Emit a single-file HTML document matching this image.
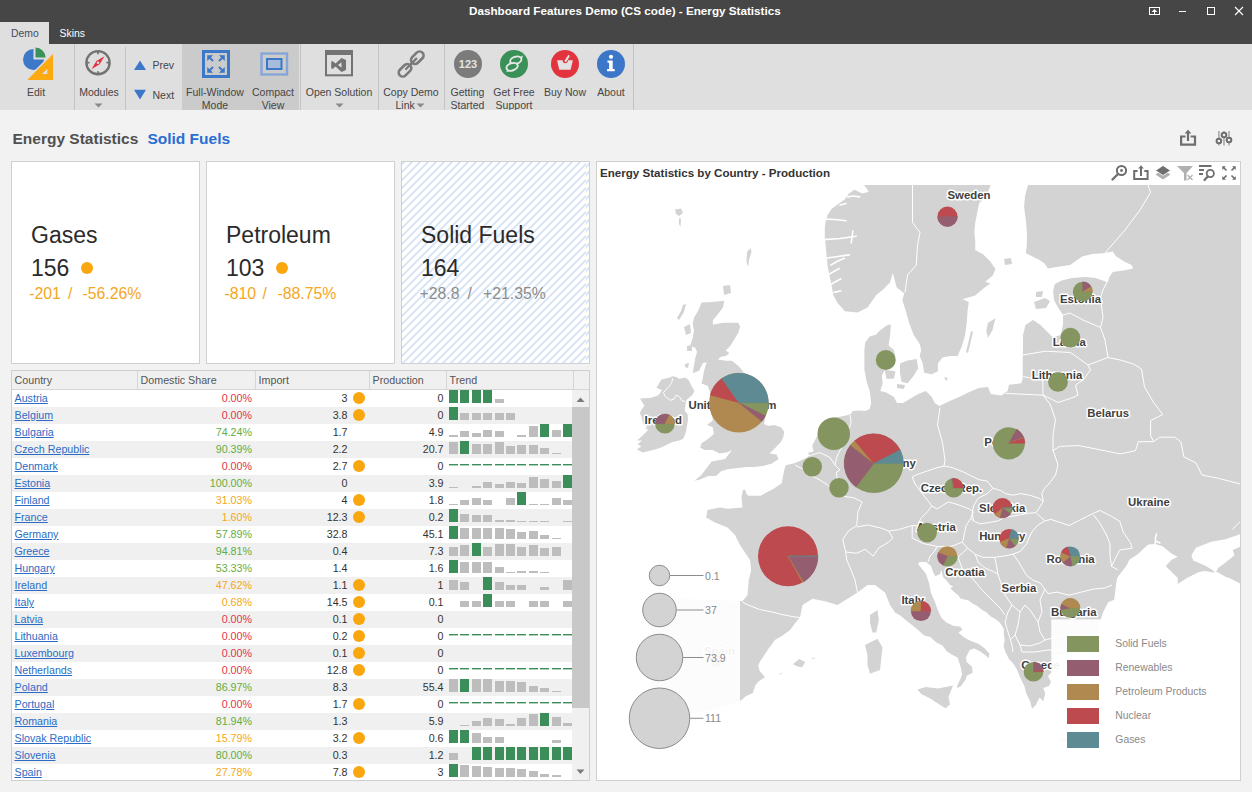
<!DOCTYPE html>
<html><head><meta charset="utf-8"><title>Dashboard Features Demo</title>
<style>
*{box-sizing:border-box;margin:0;padding:0}
html,body{width:1252px;height:792px;overflow:hidden}
body{position:relative;background:#f2f2f2;font-family:"Liberation Sans",sans-serif;color:#333}
.abs{position:absolute}
.t{position:absolute;white-space:nowrap;line-height:1}
#titlebar{position:absolute;left:0;top:0;width:1252px;height:44px;background:#464646}
#ribbon{position:absolute;left:0;top:44px;width:1252px;height:66px;background:#dfdfdf;overflow:hidden}
.sep{position:absolute;top:0;width:1px;height:66px;background:#c3c3c3}
.rl{position:absolute;font-size:10.5px;color:#454545;white-space:nowrap;text-align:center;line-height:13px}
.card{position:absolute;top:161px;width:189px;height:203px;background:#fff;border:1px solid #d0d0d0}
.ct{position:absolute;left:19px;font-size:23px;color:#2b2b2b;white-space:nowrap;line-height:1}
.cs{position:absolute;font-size:15.8px;white-space:nowrap;line-height:1}
#grid{position:absolute;left:11px;top:370px;width:579px;height:411px;background:#fff;border:1px solid #cfcfcf;overflow:hidden}
.gh{position:absolute;top:0;height:19px;background:#f0f0f0;border-right:1px solid #d5d5d5;border-bottom:1px solid #d5d5d5;font-size:10.7px;color:#555;padding:3.8px 0 0 2.6px;line-height:1}
.gr{position:absolute;left:12px;width:560px;height:17px}
a.lk{position:absolute;color:#2d6cc5;text-decoration:underline;line-height:1;white-space:nowrap;font-size:10.7px}
.num{position:absolute;line-height:1;white-space:nowrap;font-size:10.7px;color:#333}
i.dot{position:absolute;width:12px;height:12px;border-radius:50%;background:#f9a60f}
</style></head><body>

<div id="titlebar"></div>
<div class="t" style="left:469px;top:5px;font-size:11.7px;font-weight:bold;color:#fff;letter-spacing:0px">Dashboard Features Demo (CS code) - Energy Statistics</div>
<svg class="abs" style="left:1140px;top:0" width="112" height="22" viewBox="1140 0 112 22">
<g fill="none" stroke="#fff" stroke-width="1">
<rect x="1149.5" y="7.5" width="10" height="7"/>
<path d="M1154.5,14.5 V11.5"/><path d="M1151.6,12 L1154.5,9 L1157.4,12 Z" fill="#fff" stroke="none"/>
<path d="M1179,11.5 H1186"/>
<rect x="1207.5" y="7.5" width="7" height="7"/>
<path d="M1235,7 L1243,15 M1243,7 L1235,15" stroke-width="1.1"/>
</g></svg>
<div class="abs" style="left:0;top:22px;width:49px;height:22px;background:#dfdfdf"></div>
<div class="t" style="left:11px;top:28.5px;font-size:10.4px;color:#4a4a5a">Demo</div>
<div class="t" style="left:59.5px;top:28.5px;font-size:10.4px;color:#fff">Skins</div>
<div id="ribbon">
 <div class="sep" style="left:74px"></div>
 <div class="sep" style="left:125px;top:3px"></div>
 <div class="abs" style="left:182px;top:0;width:117px;height:66px;background:#cbcbcb"></div>
 <div class="sep" style="left:300px"></div>
 <div class="sep" style="left:378px"></div>
 <div class="sep" style="left:444px"></div>
 <div class="sep" style="left:633px"></div>
</div>
<svg class="abs" style="left:20px;top:46px" width="36" height="36" viewBox="20 46 36 36">
<path d="M33.5,59.5 L33.5,49 A10.5,10.5 0 1 0 44,59.5 Z" fill="#3d78c9"/>
<path d="M35.5,57.5 L35.5,47.5 A10,10 0 0 1 45.5,57.5 Z" fill="#3a9159"/>
<path d="M53,54.3 L53,80 L27.5,80 Z" fill="#fda911" stroke="#dfdfdf" stroke-width="3.2" paint-order="stroke"/><path d="M53,54.3 L53,80 L27.5,80 Z" fill="#fda911"/>
<path d="M47.3,68.8 L47.3,74 L42,74 Z" fill="#dfdfdf"/>
</svg><svg class="abs" style="left:84px;top:49px" width="28" height="28" viewBox="84 49 28 28">
<circle cx="98" cy="62.7" r="11.6" fill="none" stroke="#727272" stroke-width="2.4"/>
<path d="M98,51.6v2.6M98,71.2v2.6M86.9,62.7h2.6M106.5,62.7h2.6" stroke="#727272" stroke-width="1.8"/>
<path d="M104.5,56.2 L99.6,64.3 L91.5,69.2 L96.4,61.1 Z" fill="#e3303f"/>
<circle cx="98" cy="62.7" r="1.3" fill="#dfdfdf"/>
</svg><svg class="abs" style="left:130px;top:56px" width="20" height="48" viewBox="130 56 20 48">
<path d="M134,70 L146,70 L140,60.4 Z" fill="#3c78c9"/>
<path d="M134,89.8 L146,89.8 L140,99.4 Z" fill="#3c78c9"/>
</svg><svg class="abs" style="left:200px;top:48px" width="32" height="32" viewBox="200 48 32 32">
<rect x="203.5" y="51.5" width="25" height="25" fill="none" stroke="#3c78c9" stroke-width="3"/>
<g stroke="#3c78c9" stroke-width="2" fill="#3c78c9">
<path d="M208.5,56.5 L213,61" /><path d="M207.5,55.5 h5 l-5,5 z" stroke-width="0.6"/>
<path d="M223.5,56.5 L219,61" /><path d="M224.5,55.5 h-5 l5,5 z" stroke-width="0.6"/>
<path d="M208.5,71.5 L213,67" /><path d="M207.5,72.5 h5 l-5,-5 z" stroke-width="0.6"/>
<path d="M223.5,71.5 L219,67" /><path d="M224.5,72.5 h-5 l5,-5 z" stroke-width="0.6"/>
</g></svg><svg class="abs" style="left:258px;top:50px" width="32" height="28" viewBox="258 50 32 28">
<rect x="261.5" y="53.5" width="25.5" height="21" fill="none" stroke="#86a6d6" stroke-width="2.4"/>
<rect x="267" y="59" width="14.5" height="10" fill="#a7bcda" stroke="#3c78c9" stroke-width="2"/>
</svg><svg class="abs" style="left:323px;top:48px" width="32" height="30" viewBox="323 48 32 30">
<rect x="326" y="51" width="26" height="24.3" fill="none" stroke="#737373" stroke-width="2"/>
<rect x="325" y="50" width="28" height="5" fill="#737373"/>
<path d="M346,60 L346,70 L341.5,72 L335.5,66.5 L332.5,69 L331.2,68.2 L331.2,61.8 L332.5,61 L335.5,63.5 L341.5,58 Z M341.5,62.2 L338,65 L341.5,67.8 Z" fill="#737373" fill-rule="evenodd"/>
</svg><svg class="abs" style="left:395px;top:48px" width="32" height="32" viewBox="395 48 32 32">
<g fill="none" stroke="#7a7a7a" stroke-width="2.6" stroke-linecap="round">
<rect x="413.3" y="50.5" width="8" height="14.4" rx="4" transform="rotate(45 417.3 57.7)"/>
<rect x="401" y="63.1" width="8" height="14.4" rx="4" transform="rotate(45 405 70.3)"/>
<path d="M406,69 L416.3,58.6" stroke-width="2.3"/>
</g></svg><svg class="abs" style="left:450px;top:46px" width="180" height="36" viewBox="450 46 180 36">
<circle cx="468" cy="64" r="14" fill="#7b7b7b"/>
<text x="468" y="68" text-anchor="middle" font-family="Liberation Sans" font-weight="bold" font-size="11px" fill="#e4e4e4">123</text>
<circle cx="514" cy="64" r="14" fill="#3a9157"/>
<ellipse cx="515.8" cy="60.3" rx="5.8" ry="3.6" transform="rotate(-18 515.8 60.3)" fill="none" stroke="#e8e8e8" stroke-width="1.9"/>
<path d="M519.8,57.2 L523.5,55.2 L521.6,58.8 Z" fill="#e8e8e8"/>
<ellipse cx="512.1" cy="66.8" rx="5.8" ry="3.6" transform="rotate(-18 512.1 66.8)" fill="#3a9157" stroke="#e8e8e8" stroke-width="1.9"/>
<path d="M508.2,69.8 L505.8,72.2 L509.6,71.2 Z" fill="#e8e8e8"/>
<circle cx="565" cy="64" r="14" fill="#e2333f"/>
<path d="M557.1,60.3 H572.9 L570.6,69.8 H559.2 Z" fill="#e2e2e2"/>
<circle cx="565.3" cy="60.6" r="2.6" fill="#e2333f"/>
<path d="M565.6,61 L568.6,56.2" stroke="#e2e2e2" stroke-width="2.1" stroke-linecap="round"/>
<circle cx="611" cy="64" r="14" fill="#3b76c8"/>
<circle cx="611" cy="56.8" r="2.1" fill="#fff"/>
<path d="M607.5,60.5 h5.2 v8.5 h2 v2.2 h-7.6 v-2.2 h2 v-6.3 h-1.6 z" fill="#fff"/>
</svg>
<div class="abs" style="left:0;top:44px;width:640px;height:66px;overflow:hidden"><div class="abs" style="left:0;top:-44px;width:640px;height:160px">
<div class="rl" style="left:16px;width:40px;top:86px">Edit</div>
<div class="rl" style="left:74px;width:50px;top:86px">Modules</div>
<svg class="abs" style="left:94px;top:103px" width="9" height="5"><path d="M0.5,0.5 L8.5,0.5 L4.5,4.5 Z" fill="#8a8a8a"/></svg>
<div class="rl" style="left:152.5px;top:58.5px;text-align:left">Prev</div>
<div class="rl" style="left:152.5px;top:88.5px;text-align:left">Next</div>
<div class="rl" style="left:182px;width:66px;top:86px">Full-Window<br>Mode</div>
<div class="rl" style="left:244px;width:58px;top:86px">Compact<br>View</div>
<div class="rl" style="left:300px;width:78px;top:86px">Open Solution</div>
<svg class="abs" style="left:335px;top:103px" width="9" height="5"><path d="M0.5,0.5 L8.5,0.5 L4.5,4.5 Z" fill="#8a8a8a"/></svg>
<div class="rl" style="left:378px;width:66px;top:86px">Copy Demo<br>Link&nbsp;&nbsp;&nbsp;&nbsp;</div>
<svg class="abs" style="left:416px;top:103px" width="9" height="5"><path d="M0.5,0.5 L8.5,0.5 L4.5,4.5 Z" fill="#8a8a8a"/></svg>
<div class="rl" style="left:444px;width:47px;top:86px">Getting<br>Started</div>
<div class="rl" style="left:489px;width:50px;top:86px">Get Free<br>Support</div>
<div class="rl" style="left:540px;width:50px;top:86px">Buy Now</div>
<div class="rl" style="left:590px;width:42px;top:86px">About</div>
</div></div>
<div class="abs" style="left:0;top:110px;width:1252px;height:0px"></div>

<div class="t" style="left:12.5px;top:130.5px;font-size:15.5px;font-weight:bold;color:#505050">Energy Statistics</div>
<div class="t" style="left:147.4px;top:130.5px;font-size:15.5px;font-weight:bold;color:#2a6ed2">Solid Fuels</div>
<svg class="abs" style="left:1176px;top:126px" width="64" height="24" viewBox="1176 126 64 24">
<g fill="none" stroke="#6e6e6e" stroke-width="2.2">
<path d="M1185.5,136.5 H1181.1 V144.6 H1195 V136.5 H1190.6"/>
<path d="M1188,141 V131.5"/>
</g>
<path d="M1184.6,133.5 L1188,129.8 L1191.4,133.5 Z" fill="#6e6e6e"/>
<g stroke-width="1.6">
<path d="M1218.9,131 V145.5 M1224,131 V145.5 M1229,131 V145.5" stroke="#a9a9a9"/>
</g>
<g fill="#f2f2f2" stroke="#6e6e6e" stroke-width="2">
<circle cx="1218.9" cy="141" r="2.3"/><circle cx="1224" cy="135" r="2.3"/><circle cx="1229" cy="140" r="2.3"/>
</g>
</svg>

<div class="card" style="left:11px"></div>
<div class="card" style="left:206px"></div>
<div class="card" style="left:401px;background:repeating-linear-gradient(-45deg,#ffffff 0px,#ffffff 3.6px,#dbe7f6 3.6px,#dbe7f6 5.66px);background-position:-3px 0"></div>
<div class="ct" style="left:31px;top:224px">Gases</div>
<div class="ct" style="left:31px;top:257px">156</div>
<div class="abs" style="left:81px;top:261.5px;width:12px;height:12px;border-radius:50%;background:#f9a60f"></div>
<div class="cs" style="left:29.2px;top:286.2px;color:#f5a623">-201</div>
<div class="cs" style="left:68px;top:286.2px;color:#f5a623">/</div>
<div class="cs" style="left:82.5px;top:286.2px;color:#f5a623">-56.26%</div>
<div class="ct" style="left:226px;top:224px">Petroleum</div>
<div class="ct" style="left:226px;top:257px">103</div>
<div class="abs" style="left:276px;top:261.5px;width:12px;height:12px;border-radius:50%;background:#f9a60f"></div>
<div class="cs" style="left:224.4px;top:286.2px;color:#f5a623">-810</div>
<div class="cs" style="left:262.5px;top:286.2px;color:#f5a623">/</div>
<div class="cs" style="left:277.5px;top:286.2px;color:#f5a623">-88.75%</div>
<div class="ct" style="left:421px;top:224px">Solid Fuels</div>
<div class="ct" style="left:421px;top:257px">164</div>
<div class="cs" style="left:419.5px;top:286.2px;color:#8d8d8d">+28.8</div>
<div class="cs" style="left:467.5px;top:286.2px;color:#8d8d8d">/</div>
<div class="cs" style="left:483px;top:286.2px;color:#8d8d8d">+21.35%</div>

<div id="grid">
 <div class="gh" style="left:0;width:126px">Country</div>
 <div class="gh" style="left:126px;width:118px">Domestic Share</div>
 <div class="gh" style="left:244px;width:114px">Import</div>
 <div class="gh" style="left:358px;width:77px">Production</div>
 <div class="gh" style="left:435px;width:127px">Trend</div>
 <div class="gh" style="left:562px;width:17px;border-right:none"></div>
 <div class="abs" style="left:560px;top:19px;width:18px;height:391px;background:#f0f0f0"></div>
 <div class="abs" style="left:560px;top:36px;width:18px;height:301px;background:#c8c8c8"></div>
 <svg class="abs" style="left:560px;top:19px" width="18" height="391"><path d="M4.5,12 L12.5,12 L8.5,7.5 Z" fill="#7a7a7a"/><path d="M4.5,379.5 L12.5,379.5 L8.5,384 Z" fill="#7a7a7a"/></svg>
</div>
<div class="gr" style="top:390px;height:17px;background:#ffffff"></div><a class="lk" style="left:14.5px;top:393px">Austria</a><span class="num" style="right:1000px;top:393px;color:#e0344e">0.00%</span><span class="num" style="right:904.5px;top:393px">3</span><i class="dot" style="left:353px;top:391.8px"></i><span class="num" style="right:808.5px;top:393px">0</span>
<div class="gr" style="top:407px;height:17px;background:#f0f0f0"></div><a class="lk" style="left:14.5px;top:410px">Belgium</a><span class="num" style="right:1000px;top:410px;color:#e0344e">0.00%</span><span class="num" style="right:904.5px;top:410px">3.8</span><i class="dot" style="left:353px;top:408.8px"></i><span class="num" style="right:808.5px;top:410px">0</span>
<div class="gr" style="top:424px;height:17px;background:#ffffff"></div><a class="lk" style="left:14.5px;top:427px">Bulgaria</a><span class="num" style="right:1000px;top:427px;color:#5fae45">74.24%</span><span class="num" style="right:904.5px;top:427px">1.7</span><span class="num" style="right:808.5px;top:427px">4.9</span>
<div class="gr" style="top:441px;height:17px;background:#f0f0f0"></div><a class="lk" style="left:14.5px;top:444px">Czech Republic</a><span class="num" style="right:1000px;top:444px;color:#5fae45">90.39%</span><span class="num" style="right:904.5px;top:444px">2.2</span><span class="num" style="right:808.5px;top:444px">20.7</span>
<div class="gr" style="top:458px;height:17px;background:#ffffff"></div><a class="lk" style="left:14.5px;top:461px">Denmark</a><span class="num" style="right:1000px;top:461px;color:#e0344e">0.00%</span><span class="num" style="right:904.5px;top:461px">2.7</span><i class="dot" style="left:353px;top:459.8px"></i><span class="num" style="right:808.5px;top:461px">0</span>
<div class="gr" style="top:475px;height:17px;background:#f0f0f0"></div><a class="lk" style="left:14.5px;top:478px">Estonia</a><span class="num" style="right:1000px;top:478px;color:#5fae45">100.00%</span><span class="num" style="right:904.5px;top:478px">0</span><span class="num" style="right:808.5px;top:478px">3.9</span>
<div class="gr" style="top:492px;height:17px;background:#ffffff"></div><a class="lk" style="left:14.5px;top:495px">Finland</a><span class="num" style="right:1000px;top:495px;color:#f5a623">31.03%</span><span class="num" style="right:904.5px;top:495px">4</span><i class="dot" style="left:353px;top:493.8px"></i><span class="num" style="right:808.5px;top:495px">1.8</span>
<div class="gr" style="top:509px;height:17px;background:#f0f0f0"></div><a class="lk" style="left:14.5px;top:512px">France</a><span class="num" style="right:1000px;top:512px;color:#f5a623">1.60%</span><span class="num" style="right:904.5px;top:512px">12.3</span><i class="dot" style="left:353px;top:510.8px"></i><span class="num" style="right:808.5px;top:512px">0.2</span>
<div class="gr" style="top:526px;height:17px;background:#ffffff"></div><a class="lk" style="left:14.5px;top:529px">Germany</a><span class="num" style="right:1000px;top:529px;color:#5fae45">57.89%</span><span class="num" style="right:904.5px;top:529px">32.8</span><span class="num" style="right:808.5px;top:529px">45.1</span>
<div class="gr" style="top:543px;height:17px;background:#f0f0f0"></div><a class="lk" style="left:14.5px;top:546px">Greece</a><span class="num" style="right:1000px;top:546px;color:#5fae45">94.81%</span><span class="num" style="right:904.5px;top:546px">0.4</span><span class="num" style="right:808.5px;top:546px">7.3</span>
<div class="gr" style="top:560px;height:17px;background:#ffffff"></div><a class="lk" style="left:14.5px;top:563px">Hungary</a><span class="num" style="right:1000px;top:563px;color:#5fae45">53.33%</span><span class="num" style="right:904.5px;top:563px">1.4</span><span class="num" style="right:808.5px;top:563px">1.6</span>
<div class="gr" style="top:577px;height:17px;background:#f0f0f0"></div><a class="lk" style="left:14.5px;top:580px">Ireland</a><span class="num" style="right:1000px;top:580px;color:#f5a623">47.62%</span><span class="num" style="right:904.5px;top:580px">1.1</span><i class="dot" style="left:353px;top:578.8px"></i><span class="num" style="right:808.5px;top:580px">1</span>
<div class="gr" style="top:594px;height:17px;background:#ffffff"></div><a class="lk" style="left:14.5px;top:597px">Italy</a><span class="num" style="right:1000px;top:597px;color:#f5a623">0.68%</span><span class="num" style="right:904.5px;top:597px">14.5</span><i class="dot" style="left:353px;top:595.8px"></i><span class="num" style="right:808.5px;top:597px">0.1</span>
<div class="gr" style="top:611px;height:17px;background:#f0f0f0"></div><a class="lk" style="left:14.5px;top:614px">Latvia</a><span class="num" style="right:1000px;top:614px;color:#e0344e">0.00%</span><span class="num" style="right:904.5px;top:614px">0.1</span><i class="dot" style="left:353px;top:612.8px"></i><span class="num" style="right:808.5px;top:614px">0</span>
<div class="gr" style="top:628px;height:17px;background:#ffffff"></div><a class="lk" style="left:14.5px;top:631px">Lithuania</a><span class="num" style="right:1000px;top:631px;color:#e0344e">0.00%</span><span class="num" style="right:904.5px;top:631px">0.2</span><i class="dot" style="left:353px;top:629.8px"></i><span class="num" style="right:808.5px;top:631px">0</span>
<div class="gr" style="top:645px;height:17px;background:#f0f0f0"></div><a class="lk" style="left:14.5px;top:648px">Luxembourg</a><span class="num" style="right:1000px;top:648px;color:#e0344e">0.00%</span><span class="num" style="right:904.5px;top:648px">0.1</span><i class="dot" style="left:353px;top:646.8px"></i><span class="num" style="right:808.5px;top:648px">0</span>
<div class="gr" style="top:662px;height:17px;background:#ffffff"></div><a class="lk" style="left:14.5px;top:665px">Netherlands</a><span class="num" style="right:1000px;top:665px;color:#e0344e">0.00%</span><span class="num" style="right:904.5px;top:665px">12.8</span><i class="dot" style="left:353px;top:663.8px"></i><span class="num" style="right:808.5px;top:665px">0</span>
<div class="gr" style="top:679px;height:17px;background:#f0f0f0"></div><a class="lk" style="left:14.5px;top:682px">Poland</a><span class="num" style="right:1000px;top:682px;color:#5fae45">86.97%</span><span class="num" style="right:904.5px;top:682px">8.3</span><span class="num" style="right:808.5px;top:682px">55.4</span>
<div class="gr" style="top:696px;height:17px;background:#ffffff"></div><a class="lk" style="left:14.5px;top:699px">Portugal</a><span class="num" style="right:1000px;top:699px;color:#e0344e">0.00%</span><span class="num" style="right:904.5px;top:699px">1.7</span><i class="dot" style="left:353px;top:697.8px"></i><span class="num" style="right:808.5px;top:699px">0</span>
<div class="gr" style="top:713px;height:17px;background:#f0f0f0"></div><a class="lk" style="left:14.5px;top:716px">Romania</a><span class="num" style="right:1000px;top:716px;color:#5fae45">81.94%</span><span class="num" style="right:904.5px;top:716px">1.3</span><span class="num" style="right:808.5px;top:716px">5.9</span>
<div class="gr" style="top:730px;height:17px;background:#ffffff"></div><a class="lk" style="left:14.5px;top:733px">Slovak Republic</a><span class="num" style="right:1000px;top:733px;color:#f5a623">15.79%</span><span class="num" style="right:904.5px;top:733px">3.2</span><i class="dot" style="left:353px;top:731.8px"></i><span class="num" style="right:808.5px;top:733px">0.6</span>
<div class="gr" style="top:747px;height:17px;background:#f0f0f0"></div><a class="lk" style="left:14.5px;top:750px">Slovenia</a><span class="num" style="right:1000px;top:750px;color:#5fae45">80.00%</span><span class="num" style="right:904.5px;top:750px">0.3</span><span class="num" style="right:808.5px;top:750px">1.2</span>
<div class="gr" style="top:764px;height:16px;background:#ffffff"></div><a class="lk" style="left:14.5px;top:767px">Spain</a><span class="num" style="right:1000px;top:767px;color:#f5a623">27.78%</span><span class="num" style="right:904.5px;top:767px">7.8</span><i class="dot" style="left:353px;top:765.8px"></i><span class="num" style="right:808.5px;top:767px">3</span>
<svg class="abs" style="left:0;top:0" width="1252" height="792" viewBox="0 0 1252 792"><rect x="449" y="390" width="9" height="13" fill="#3b8e5a"/><rect x="460" y="390" width="9" height="13" fill="#3b8e5a"/><rect x="472" y="390" width="9" height="13" fill="#3b8e5a"/><rect x="483" y="390" width="9" height="13" fill="#3b8e5a"/><rect x="495" y="399" width="9" height="4" fill="#bdbdbd"/><rect x="449" y="407" width="9" height="13" fill="#3b8e5a"/><rect x="460" y="413" width="9" height="7" fill="#bdbdbd"/><rect x="472" y="413" width="9" height="7" fill="#bdbdbd"/><rect x="483" y="413" width="9" height="7" fill="#bdbdbd"/><rect x="495" y="413" width="9" height="7" fill="#bdbdbd"/><rect x="506" y="413" width="9" height="7" fill="#bdbdbd"/><rect x="449" y="435" width="9" height="2" fill="#bdbdbd"/><rect x="460" y="431" width="9" height="6" fill="#bdbdbd"/><rect x="472" y="433" width="9" height="4" fill="#bdbdbd"/><rect x="483" y="430" width="9" height="7" fill="#bdbdbd"/><rect x="495" y="431" width="9" height="6" fill="#bdbdbd"/><rect x="517" y="435" width="9" height="2" fill="#bdbdbd"/><rect x="529" y="426" width="9" height="11" fill="#bdbdbd"/><rect x="540" y="424" width="9" height="13" fill="#3b8e5a"/><rect x="552" y="430" width="9" height="7" fill="#bdbdbd"/><rect x="563" y="424" width="9" height="13" fill="#3b8e5a"/><rect x="449" y="442" width="9" height="12" fill="#bdbdbd"/><rect x="460" y="441" width="9" height="13" fill="#3b8e5a"/><rect x="472" y="444" width="9" height="10" fill="#bdbdbd"/><rect x="483" y="444" width="9" height="10" fill="#bdbdbd"/><rect x="495" y="442" width="9" height="12" fill="#bdbdbd"/><rect x="506" y="446" width="9" height="8" fill="#bdbdbd"/><rect x="517" y="445" width="9" height="9" fill="#bdbdbd"/><rect x="529" y="445" width="9" height="9" fill="#bdbdbd"/><rect x="540" y="448" width="9" height="6" fill="#bdbdbd"/><rect x="552" y="453" width="9" height="1" fill="#bdbdbd"/><rect x="449" y="464" width="9" height="1.4" fill="#3b8e5a"/><rect x="460" y="464" width="9" height="1.4" fill="#3b8e5a"/><rect x="472" y="464" width="9" height="1.4" fill="#3b8e5a"/><rect x="483" y="464" width="9" height="1.4" fill="#3b8e5a"/><rect x="495" y="464" width="9" height="1.4" fill="#3b8e5a"/><rect x="506" y="464" width="9" height="1.4" fill="#3b8e5a"/><rect x="517" y="464" width="9" height="1.4" fill="#3b8e5a"/><rect x="529" y="464" width="9" height="1.4" fill="#3b8e5a"/><rect x="540" y="464" width="9" height="1.4" fill="#3b8e5a"/><rect x="552" y="464" width="9" height="1.4" fill="#3b8e5a"/><rect x="563" y="464" width="9" height="1.4" fill="#3b8e5a"/><rect x="449" y="487" width="9" height="1" fill="#bdbdbd"/><rect x="472" y="486" width="9" height="2" fill="#bdbdbd"/><rect x="483" y="482" width="9" height="6" fill="#bdbdbd"/><rect x="495" y="484" width="9" height="4" fill="#bdbdbd"/><rect x="506" y="482" width="9" height="6" fill="#bdbdbd"/><rect x="517" y="483" width="9" height="5" fill="#bdbdbd"/><rect x="529" y="477" width="9" height="11" fill="#bdbdbd"/><rect x="540" y="479" width="9" height="9" fill="#bdbdbd"/><rect x="552" y="481" width="9" height="7" fill="#bdbdbd"/><rect x="563" y="475" width="9" height="13" fill="#3b8e5a"/><rect x="449" y="504" width="9" height="1" fill="#bdbdbd"/><rect x="460" y="500" width="9" height="5" fill="#bdbdbd"/><rect x="472" y="498" width="9" height="7" fill="#bdbdbd"/><rect x="483" y="500" width="9" height="5" fill="#bdbdbd"/><rect x="506" y="498" width="9" height="7" fill="#bdbdbd"/><rect x="517" y="492" width="9" height="13" fill="#3b8e5a"/><rect x="529" y="504" width="9" height="1" fill="#bdbdbd"/><rect x="540" y="504" width="9" height="1" fill="#bdbdbd"/><rect x="552" y="498" width="9" height="7" fill="#bdbdbd"/><rect x="563" y="500" width="9" height="5" fill="#bdbdbd"/><rect x="449" y="509" width="9" height="13" fill="#3b8e5a"/><rect x="460" y="514" width="9" height="8" fill="#bdbdbd"/><rect x="472" y="515" width="9" height="7" fill="#bdbdbd"/><rect x="483" y="515" width="9" height="7" fill="#bdbdbd"/><rect x="495" y="520" width="9" height="2" fill="#bdbdbd"/><rect x="506" y="520" width="9" height="2" fill="#bdbdbd"/><rect x="517" y="521" width="9" height="1" fill="#bdbdbd"/><rect x="529" y="521" width="9" height="1" fill="#bdbdbd"/><rect x="540" y="521" width="9" height="1" fill="#bdbdbd"/><rect x="563" y="521" width="9" height="1" fill="#bdbdbd"/><rect x="449" y="526" width="9" height="13" fill="#3b8e5a"/><rect x="460" y="528" width="9" height="11" fill="#bdbdbd"/><rect x="472" y="528" width="9" height="11" fill="#bdbdbd"/><rect x="483" y="528" width="9" height="11" fill="#bdbdbd"/><rect x="495" y="528" width="9" height="11" fill="#bdbdbd"/><rect x="506" y="529" width="9" height="10" fill="#bdbdbd"/><rect x="517" y="532" width="9" height="7" fill="#bdbdbd"/><rect x="529" y="531" width="9" height="8" fill="#bdbdbd"/><rect x="540" y="535" width="9" height="4" fill="#bdbdbd"/><rect x="552" y="538" width="9" height="1" fill="#bdbdbd"/><rect x="449" y="547" width="9" height="9" fill="#bdbdbd"/><rect x="460" y="545" width="9" height="11" fill="#bdbdbd"/><rect x="472" y="543" width="9" height="13" fill="#3b8e5a"/><rect x="483" y="547" width="9" height="9" fill="#bdbdbd"/><rect x="495" y="544" width="9" height="12" fill="#bdbdbd"/><rect x="506" y="544" width="9" height="12" fill="#bdbdbd"/><rect x="517" y="547" width="9" height="9" fill="#bdbdbd"/><rect x="529" y="545" width="9" height="11" fill="#bdbdbd"/><rect x="540" y="548" width="9" height="8" fill="#bdbdbd"/><rect x="552" y="547" width="9" height="9" fill="#bdbdbd"/><rect x="449" y="560" width="9" height="13" fill="#3b8e5a"/><rect x="460" y="562" width="9" height="11" fill="#bdbdbd"/><rect x="472" y="562" width="9" height="11" fill="#bdbdbd"/><rect x="483" y="562" width="9" height="11" fill="#bdbdbd"/><rect x="495" y="567" width="9" height="6" fill="#bdbdbd"/><rect x="506" y="572" width="9" height="1" fill="#bdbdbd"/><rect x="517" y="571" width="9" height="2" fill="#bdbdbd"/><rect x="529" y="571" width="9" height="2" fill="#bdbdbd"/><rect x="540" y="572" width="9" height="1" fill="#bdbdbd"/><rect x="449" y="580" width="9" height="10" fill="#bdbdbd"/><rect x="460" y="582" width="9" height="8" fill="#bdbdbd"/><rect x="483" y="577" width="9" height="13" fill="#3b8e5a"/><rect x="495" y="582" width="9" height="8" fill="#bdbdbd"/><rect x="506" y="585" width="9" height="5" fill="#bdbdbd"/><rect x="517" y="585" width="9" height="5" fill="#bdbdbd"/><rect x="540" y="587" width="9" height="3" fill="#bdbdbd"/><rect x="563" y="580" width="9" height="10" fill="#bdbdbd"/><rect x="460" y="601" width="9" height="6" fill="#bdbdbd"/><rect x="472" y="601" width="9" height="6" fill="#bdbdbd"/><rect x="483" y="594" width="9" height="13" fill="#3b8e5a"/><rect x="495" y="601" width="9" height="6" fill="#bdbdbd"/><rect x="506" y="601" width="9" height="6" fill="#bdbdbd"/><rect x="529" y="601" width="9" height="6" fill="#bdbdbd"/><rect x="540" y="601" width="9" height="6" fill="#bdbdbd"/><rect x="563" y="601" width="9" height="6" fill="#bdbdbd"/><rect x="449" y="634" width="9" height="1.4" fill="#3b8e5a"/><rect x="460" y="634" width="9" height="1.4" fill="#3b8e5a"/><rect x="472" y="634" width="9" height="1.4" fill="#3b8e5a"/><rect x="483" y="634" width="9" height="1.4" fill="#3b8e5a"/><rect x="495" y="634" width="9" height="1.4" fill="#3b8e5a"/><rect x="506" y="634" width="9" height="1.4" fill="#3b8e5a"/><rect x="517" y="634" width="9" height="1.4" fill="#3b8e5a"/><rect x="529" y="634" width="9" height="1.4" fill="#3b8e5a"/><rect x="540" y="634" width="9" height="1.4" fill="#3b8e5a"/><rect x="552" y="634" width="9" height="1.4" fill="#3b8e5a"/><rect x="563" y="634" width="9" height="1.4" fill="#3b8e5a"/><rect x="449" y="668" width="9" height="1.4" fill="#3b8e5a"/><rect x="460" y="668" width="9" height="1.4" fill="#3b8e5a"/><rect x="472" y="668" width="9" height="1.4" fill="#3b8e5a"/><rect x="483" y="668" width="9" height="1.4" fill="#3b8e5a"/><rect x="495" y="668" width="9" height="1.4" fill="#3b8e5a"/><rect x="506" y="668" width="9" height="1.4" fill="#3b8e5a"/><rect x="517" y="668" width="9" height="1.4" fill="#3b8e5a"/><rect x="529" y="668" width="9" height="1.4" fill="#3b8e5a"/><rect x="540" y="668" width="9" height="1.4" fill="#3b8e5a"/><rect x="552" y="668" width="9" height="1.4" fill="#3b8e5a"/><rect x="563" y="668" width="9" height="1.4" fill="#3b8e5a"/><rect x="449" y="679" width="9" height="13" fill="#bdbdbd"/><rect x="460" y="679" width="9" height="13" fill="#3b8e5a"/><rect x="472" y="679" width="9" height="13" fill="#bdbdbd"/><rect x="483" y="679" width="9" height="13" fill="#bdbdbd"/><rect x="495" y="681" width="9" height="11" fill="#bdbdbd"/><rect x="506" y="681" width="9" height="11" fill="#bdbdbd"/><rect x="517" y="682" width="9" height="10" fill="#bdbdbd"/><rect x="529" y="686" width="9" height="6" fill="#bdbdbd"/><rect x="540" y="688" width="9" height="4" fill="#bdbdbd"/><rect x="552" y="691" width="9" height="1" fill="#bdbdbd"/><rect x="449" y="702" width="9" height="1.4" fill="#3b8e5a"/><rect x="460" y="702" width="9" height="1.4" fill="#3b8e5a"/><rect x="472" y="702" width="9" height="1.4" fill="#3b8e5a"/><rect x="483" y="702" width="9" height="1.4" fill="#3b8e5a"/><rect x="495" y="702" width="9" height="1.4" fill="#3b8e5a"/><rect x="506" y="702" width="9" height="1.4" fill="#3b8e5a"/><rect x="517" y="702" width="9" height="1.4" fill="#3b8e5a"/><rect x="529" y="702" width="9" height="1.4" fill="#3b8e5a"/><rect x="540" y="702" width="9" height="1.4" fill="#3b8e5a"/><rect x="552" y="702" width="9" height="1.4" fill="#3b8e5a"/><rect x="563" y="702" width="9" height="1.4" fill="#3b8e5a"/><rect x="460" y="725" width="9" height="1" fill="#bdbdbd"/><rect x="472" y="721" width="9" height="5" fill="#bdbdbd"/><rect x="483" y="718" width="9" height="8" fill="#bdbdbd"/><rect x="495" y="719" width="9" height="7" fill="#bdbdbd"/><rect x="506" y="724" width="9" height="2" fill="#bdbdbd"/><rect x="517" y="718" width="9" height="8" fill="#bdbdbd"/><rect x="529" y="714" width="9" height="12" fill="#bdbdbd"/><rect x="540" y="713" width="9" height="13" fill="#3b8e5a"/><rect x="552" y="717" width="9" height="9" fill="#bdbdbd"/><rect x="563" y="723" width="9" height="3" fill="#bdbdbd"/><rect x="449" y="730" width="9" height="13" fill="#3b8e5a"/><rect x="460" y="730" width="9" height="13" fill="#3b8e5a"/><rect x="472" y="733" width="9" height="10" fill="#bdbdbd"/><rect x="483" y="737" width="9" height="6" fill="#bdbdbd"/><rect x="495" y="737" width="9" height="6" fill="#bdbdbd"/><rect x="552" y="740" width="9" height="3" fill="#bdbdbd"/><rect x="449" y="753" width="9" height="7" fill="#bdbdbd"/><rect x="472" y="747" width="9" height="13" fill="#3b8e5a"/><rect x="483" y="747" width="9" height="13" fill="#3b8e5a"/><rect x="495" y="747" width="9" height="13" fill="#3b8e5a"/><rect x="506" y="747" width="9" height="13" fill="#3b8e5a"/><rect x="517" y="747" width="9" height="13" fill="#3b8e5a"/><rect x="529" y="747" width="9" height="13" fill="#3b8e5a"/><rect x="540" y="747" width="9" height="13" fill="#3b8e5a"/><rect x="552" y="747" width="9" height="13" fill="#3b8e5a"/><rect x="563" y="747" width="9" height="13" fill="#3b8e5a"/><rect x="449" y="764" width="9" height="13" fill="#3b8e5a"/><rect x="460" y="765" width="9" height="12" fill="#bdbdbd"/><rect x="472" y="766" width="9" height="11" fill="#bdbdbd"/><rect x="483" y="767" width="9" height="10" fill="#bdbdbd"/><rect x="495" y="768" width="9" height="9" fill="#bdbdbd"/><rect x="506" y="768" width="9" height="9" fill="#bdbdbd"/><rect x="517" y="769" width="9" height="8" fill="#bdbdbd"/><rect x="529" y="771" width="9" height="6" fill="#bdbdbd"/><rect x="540" y="774" width="9" height="3" fill="#bdbdbd"/><rect x="552" y="775" width="9" height="2" fill="#bdbdbd"/></svg>

<div class="abs" style="left:596px;top:161px;width:645px;height:620px;background:#fff;border:1px solid #cfcfcf"></div>
<div class="t" style="left:600px;top:166.5px;font-size:11.6px;font-weight:bold;color:#333">Energy Statistics by Country - Production</div>
<svg class="abs" style="left:1108px;top:163px" width="132" height="20" viewBox="1108 163 132 20">
<g fill="none" stroke="#6e6e6e" stroke-width="2">
<circle cx="1121.5" cy="170.5" r="4.6"/><path d="M1118,174 L1112.5,179.5" stroke-width="2.4" stroke-linecap="round"/>
<path d="M1137.5,171 H1134.2 V179 H1147.6 V171 H1144.3"/><path d="M1141,176 V167"/>
</g>
<circle cx="1121.5" cy="170.5" r="1.4" fill="#6e6e6e"/>
<path d="M1138.2,168.5 L1141,165.3 L1143.8,168.5 Z" fill="#6e6e6e"/>
<path d="M1163,169.5 L1170.5,174.5 L1163,179.5 L1155.5,174.5 Z" fill="#b0b0b0"/>
<path d="M1163,165.5 L1170.5,170.5 L1163,175.5 L1155.5,170.5 Z" fill="#6e6e6e" stroke="#fff" stroke-width="0.8"/>
<path d="M1177,166 H1193 L1186.5,173 V180.5 H1184 V173 Z" fill="#b0b0b0"/>
<path d="M1187.5,175 L1192.5,180 M1192.5,175 L1187.5,180" stroke="#b0b0b0" stroke-width="1.3"/>
<g fill="none" stroke="#6e6e6e" stroke-width="1.8">
<path d="M1199,166 H1211.5 M1199,170 H1204 M1199,174 H1203"/>
<circle cx="1210.3" cy="173.5" r="3.6"/><path d="M1207.8,176.5 L1204.5,180" stroke-width="2.2" stroke-linecap="round"/>
</g>
<g stroke="#6e6e6e" stroke-width="1.6" fill="#6e6e6e">
<path d="M1223,167 L1226.5,170.5 M1235,167 L1231.5,170.5 M1223,179 L1226.5,175.5 M1235,179 L1231.5,175.5"/>
</g>
<g fill="#6e6e6e"><path d="M1222.3,166.3 h3.6 l-3.6,3.6z"/><path d="M1235.7,166.3 h-3.6 l3.6,3.6z"/><path d="M1222.3,179.7 h3.6 l-3.6,-3.6z"/><path d="M1235.7,179.7 h-3.6 l3.6,-3.6z"/></g>
</svg>
<svg class="abs" style="left:597px;top:185px" width="643" height="595" viewBox="597 185 643 595">
<rect x="597" y="185" width="643" height="595" fill="#fff"/>
<g fill="#d3d3d3" stroke="none">
<polygon points="701.6,302.6 711.7,301.9 724.3,300.7 723.0,307.6 718.0,313.9 712.9,320.3 712.9,324.7 723.0,322.8 738.2,322.8 740.1,326.6 738.2,332.9 734.4,339.2 730.6,345.5 725.6,350.6 729.3,353.1 726.8,355.6 720.5,356.9 718.0,359.4 725.6,360.7 731.9,360.7 738.2,365.7 742.6,370.8 746.0,376.0 752.0,384.0 757.0,393.0 761.0,403.0 764.0,413.0 765.0,419.3 763.9,423.9 768.4,426.1 774.1,425.0 780.9,427.3 784.3,431.8 783.2,437.5 780.9,442.0 777.5,445.5 774.1,448.9 769.5,453.4 776.4,454.5 778.6,459.1 771.8,463.6 762.7,465.9 753.6,467.0 746.8,467.0 735.5,468.2 727.5,469.3 720.7,471.6 716.1,476.1 708.2,476.1 700.2,479.5 694.5,480.7 701.4,475.0 708.2,465.9 711.6,461.4 718.4,460.2 725.2,459.1 728.6,454.5 732.0,450.0 727.5,452.3 719.5,453.4 712.7,450.0 704.8,450.0 700.2,447.7 701.4,443.2 707.0,439.8 713.9,434.1 712.7,427.3 707.0,425.0 712.7,420.5 711.9,413.3 712.0,405.0 710.4,393.5 707.9,385.9 701.6,383.4 702.8,378.3 704.1,370.8 706.6,361.9 702.8,363.2 699.0,370.8 692.7,373.3 694.0,365.7 695.3,358.1 697.1,351.8 695.3,348.0 690.2,345.5 692.7,337.9 694.0,330.4 692.7,324.0 694.0,317.7 697.8,311.4"/>
<polygon points="656.5,387.7 661.5,379.5 669.7,377.6 672.9,376.3 676.0,376.9 679.2,378.8 685.5,377.6 688.6,380.1 691.8,386.4 694.3,390.8 693.0,394.0 690.5,396.5 686.7,399.7 685.5,404.7 684.8,411.0 687.6,413.9 688.0,420.0 686.8,426.8 686.1,431.4 684.5,435.9 683.0,438.9 679.2,440.5 672.4,442.0 667.9,444.2 661.8,447.3 655.0,449.5 648.9,451.1 642.9,452.6 636.8,449.5 641.4,446.5 637.6,444.2 642.1,440.5 636.8,440.5 640.6,437.4 645.2,432.9 648.2,429.8 645.2,428.3 647.4,426.8 643.6,424.5 642.1,420.0 641.4,416.2 639.8,413.2 641.9,409.1 644.5,406.0 642.6,402.8 640.0,398.4 651.4,397.8 658.3,395.2 662.1,390.2"/>
<polygon points="864.0,185.0 990.6,185.0 986.8,195.5 979.1,203.2 977.2,212.8 975.3,222.3 974.3,231.9 975.3,241.5 975.2,250.1 982.7,253.9 990.3,261.5 995.4,269.0 992.8,275.4 985.3,281.7 990.3,283.6 984.0,288.0 975.2,295.6 962.5,299.3 968.8,301.9 967.6,310.7 966.7,322.7 965.2,334.8 962.1,345.5 957.6,356.1 950.0,356.1 942.4,357.6 937.9,363.6 937.9,371.2 931.8,374.2 924.2,372.7 922.7,363.6 919.7,356.1 921.2,350.0 919.7,343.9 913.6,334.8 909.1,322.7 906.1,312.1 902.3,300.0 904.3,293.3 896.7,287.5 892.8,273.1 890.0,282.5 882.5,290.0 876.3,295.0 867.5,307.5 857.5,312.5 845.0,311.3 837.3,302.8 833.4,295.2 831.5,285.6 829.6,276.0 827.7,266.4 826.7,256.8 825.8,247.3 824.8,237.7 824.8,228.1 825.8,220.4 827.7,214.7 831.5,208.9 839.2,203.2 845.0,199.3 848.8,193.6 854.5,189.8 862.2,193.6 868.9,191.7"/>
<polygon points="1028.0,185.0 1242.0,185.0 1242.0,584.5 1229.3,578.0 1225.5,576.8 1217.2,571.9 1213.0,572.5 1205.0,571.0 1199.0,571.9 1186.9,578.0 1177.8,584.0 1177.8,578.0 1171.7,571.9 1165.7,565.9 1171.7,559.8 1177.8,556.8 1171.7,553.8 1162.7,546.2 1155.1,544.0 1148.4,544.6 1144.5,547.7 1138.4,553.8 1129.4,559.8 1126.3,565.9 1120.3,573.4 1117.2,578.0 1116.1,584.0 1114.2,599.8 1108.2,602.2 1103.1,612.3 1100.6,619.9 1099.0,630.0 1097.0,642.0 1090.0,648.0 1075.0,652.0 1060.0,655.0 1053.0,655.0 1053.0,660.0 1050.0,664.0 1052.0,672.0 1048.0,676.0 1051.0,682.0 1049.0,686.1 1043.3,688.0 1045.2,693.6 1043.3,701.2 1039.5,697.4 1035.8,705.0 1032.0,708.8 1030.1,701.2 1026.3,693.6 1024.4,686.1 1020.6,678.5 1016.8,669.0 1012.0,662.0 1009.2,659.5 1005.5,652.0 1003.6,646.3 1004.8,640.0 1003.8,634.7 1003.8,628.7 999.8,622.6 994.7,618.6 990.7,616.6 986.7,612.5 981.6,609.5 976.6,605.5 972.5,603.4 968.5,600.4 964.4,599.4 960.4,598.4 958.4,595.4 953.3,591.3 950.3,588.3 953.3,586.3 950.3,585.3 946.3,580.2 943.2,577.2 941.2,570.1 940.2,574.1 935.2,576.2 933.1,572.1 931.1,566.1 926.0,562.0 920.0,562.0 918.0,564.0 926.1,574.1 929.1,583.2 931.1,593.3 935.2,602.4 937.2,608.5 941.2,617.6 946.3,622.6 953.3,625.7 960.4,626.7 962.4,629.7 958.4,632.7 963.4,636.8 968.5,640.0 978.8,643.9 984.8,648.5 989.4,653.8 988.6,658.3 986.4,656.1 980.3,651.5 974.2,648.5 969.7,650.0 965.9,657.6 966.7,662.1 972.0,666.7 972.7,672.7 966.7,675.8 965.2,680.3 960.6,686.4 956.8,687.9 957.6,684.8 960.6,678.8 962.1,674.2 960.6,666.7 957.6,657.6 951.5,654.5 947.0,651.5 942.4,645.5 936.4,642.4 930.3,637.1 924.2,635.6 916.7,628.8 909.1,622.7 900.0,615.2 895.0,612.5 890.0,605.0 885.0,592.5 875.0,585.0 867.5,585.0 857.5,592.5 847.5,598.8 837.5,605.0 825.0,601.2 812.5,598.8 802.5,605.0 800.0,617.5 796.0,622.0 790.0,630.0 782.0,636.0 774.8,640.0 771.8,644.5 768.8,648.3 764.2,655.2 759.7,662.0 758.2,665.8 759.7,671.1 765.0,677.1 758.2,681.7 755.2,685.5 752.9,693.0 746.1,696.1 741.5,700.0 735.0,703.0 720.0,707.0 705.0,712.0 690.0,712.0 680.0,708.0 665.0,705.0 655.0,700.0 652.0,690.0 650.0,675.0 652.0,660.0 648.0,645.0 652.0,630.0 650.0,615.0 655.0,603.0 665.0,598.0 680.0,598.0 700.0,600.0 720.0,600.0 742.5,601.2 747.5,595.0 748.8,580.0 751.2,570.0 750.0,560.0 745.0,552.5 740.0,545.0 735.0,535.0 727.5,527.5 715.0,522.5 706.2,517.5 707.5,510.0 720.0,507.5 727.5,508.8 742.5,507.5 741.5,498.0 742.8,490.3 745.0,489.5 746.5,494.0 748.3,495.8 760.8,495.8 767.8,491.7 773.3,488.9 781.7,483.3 784.4,469.4 785.8,465.3 794.2,463.2 799.7,461.1 805.3,458.3 809.4,455.6 808.1,452.8 813.6,451.4 812.2,445.8 815.0,440.3 817.8,434.7 820.6,427.8 824.7,420.8 830.3,418.1 840.0,416.7 846.9,415.3 851.1,413.9 852.5,411.1 859.4,410.4 865.0,411.1 869.7,409.1 871.2,403.0 869.7,390.9 866.7,381.8 864.4,369.7 864.4,360.6 864.4,350.0 865.2,342.4 869.7,336.4 875.8,334.8 880.3,330.3 886.4,325.8 890.9,324.2 890.2,334.8 888.6,345.5 893.9,350.0 895.5,357.6 889.4,363.6 884.8,369.7 881.8,375.8 882.6,383.3 880.3,390.9 886.4,392.4 893.9,397.0 897.0,403.0 903.0,403.0 910.6,398.5 918.2,393.9 925.8,390.9 931.8,397.0 934.8,403.0 939.4,406.1 948.5,401.5 959.1,397.0 968.2,392.4 978.8,387.9 987.9,387.1 990.9,393.9 1001.5,395.5 1007.6,390.9 1009.1,384.8 1021.2,383.3 1022.7,378.8 1022.7,360.6 1023.0,350.0 1023.0,335.0 1025.5,325.0 1033.0,320.0 1040.5,325.0 1053.0,337.5 1060.5,335.0 1063.0,325.0 1063.0,315.0 1058.0,307.5 1054.0,300.0 1053.1,290.7 1054.8,283.9 1061.6,280.5 1071.8,277.9 1085.5,277.1 1095.7,277.9 1107.6,282.2 1109.4,277.1 1112.8,272.0 1124.7,270.3 1133.2,268.5 1131.5,265.1 1124.7,261.7 1116.2,256.6 1112.8,251.5 1102.5,253.2 1092.3,254.1 1082.1,256.6 1070.1,265.1 1058.2,266.8 1048.0,268.5 1044.6,263.4 1039.4,260.0 1032.6,256.6 1025.8,253.2 1026.7,246.4 1027.0,233.8 1026.1,222.3 1024.1,207.0 1025.1,195.5"/>
<polygon points="870.0,615.0 877.5,610.0 878.8,620.0 876.2,632.5 872.5,632.5 870.0,622.5"/>
<polygon points="865.0,645.0 877.5,638.8 882.5,647.5 880.0,670.0 870.0,673.8 867.5,665.0 867.5,655.0"/>
<polygon points="917.4,689.4 925.8,687.1 937.9,688.6 953.0,685.6 948.5,697.0 950.0,704.5 945.5,708.3 939.4,704.5 930.3,698.5 921.2,693.9"/>
<polygon points="793.0,664.2 799.1,658.9 805.2,662.0 802.1,667.3 797.6,666.5"/>
<polygon points="811.2,657.4 815.8,658.2 813.0,659.0"/>
<polygon points="779.4,674.1 782.4,672.2 781.0,674.5"/>
<polygon points="987.9,322.7 995.5,318.2 992.4,330.3 987.9,337.9 986.4,330.3"/>
<polygon points="971.0,331.0 973.0,332.0 968.0,353.0 966.0,352.0"/>
<polygon points="1034.0,302.0 1045.0,298.0 1050.0,301.0 1046.0,308.0 1036.0,309.0"/>
<polygon points="1036.0,292.0 1043.0,291.0 1042.0,297.0 1036.0,297.0"/>
<polygon points="900.0,363.6 907.6,360.6 916.7,359.1 918.2,368.2 913.6,375.8 907.6,383.3 901.5,381.8 900.0,372.7"/>
<polygon points="884.8,369.7 895.5,371.2 893.9,378.8 886.4,378.8"/>
<polygon points="897.0,384.0 905.0,385.0 904.0,389.0 897.0,388.0"/>
<polygon points="944.0,377.0 948.0,378.0 946.0,381.0"/>
<polygon points="747.0,252.0 750.5,248.0 751.5,252.0 749.0,260.0 748.0,267.0 746.5,262.0"/>
<polygon points="723.0,286.0 730.0,285.0 731.0,293.0 724.0,295.0"/>
<polygon points="675.0,209.5 681.0,208.5 683.0,213.0 679.0,216.0 676.0,214.0"/>
<polygon points="679.0,218.0 681.0,219.0 680.5,227.0 679.0,224.0"/>
<polygon points="683.0,305.0 686.0,304.0 684.0,312.0 679.0,320.0 677.0,318.0 681.0,311.0"/>
<polygon points="684.0,327.0 690.0,324.0 691.0,333.0 686.0,335.0"/>
<polygon points="687.0,346.0 692.0,345.0 692.0,351.0 687.0,351.0"/>
<polygon points="685.0,364.0 689.0,363.0 688.0,368.0 685.0,367.0"/>
<polygon points="1004.0,259.0 1011.0,258.0 1012.0,264.0 1005.0,265.0"/>
<polygon points="1060.0,738.0 1080.0,736.0 1095.0,739.0 1080.0,743.0 1062.0,742.0"/>
</g>
<polygon points="1191.4,555.3 1196.0,547.7 1200.4,546.0 1211.1,541.7 1225.5,539.2 1242.0,533.5 1242.0,546.0 1232.7,549.9 1234.5,555.3 1225.5,562.5 1218.3,567.9 1215.5,573.0 1213.0,570.5 1206.0,566.0 1199.0,563.0 1193.2,560.5" fill="#fff"/>
<g fill="none" stroke="#fff" stroke-width="1.5" stroke-linejoin="round" stroke-linecap="round">
<polyline points="1155.1,544.5 1155.5,538.0 1156.5,534.0"/>
<polyline points="1155.5,541.0 1160.0,543.0"/>
</g>
<g fill="none" stroke="#fff" stroke-width="1" stroke-linejoin="round">
<polyline points="672.9,378.2 671.6,382.6 669.1,386.4 667.2,388.3 663.4,392.7 665.3,396.5 670.3,400.3 674.1,399.0 676.0,395.2 679.2,396.5 682.3,400.9 685.5,401.5"/>
<polyline points="912.5,185.0 912.5,222.5 920.0,232.5 917.5,245.0 916.3,265.0 907.5,275.0 905.0,292.5"/>
<polyline points="1148.0,185.0 1150.5,192.5 1140.0,210.0 1125.0,230.0 1105.5,252.5"/>
<polyline points="1108.0,280.0 1103.0,290.0 1100.5,297.5 1103.0,317.5 1100.5,327.5"/>
<polyline points="1063.0,315.0 1070.0,313.0 1083.0,320.0 1100.5,327.5"/>
<polyline points="1100.5,327.5 1105.0,340.0 1108.0,357.5"/>
<polyline points="1023.0,355.0 1045.5,351.2 1070.5,352.5 1088.0,365.0 1108.0,357.5"/>
<polyline points="1108.0,357.5 1120.3,360.0 1133.8,364.2 1141.5,369.1 1144.5,387.2 1153.6,402.4 1162.7,414.5 1150.6,420.6 1150.6,435.7 1153.6,441.7"/>
<polyline points="1043.0,395.0 1058.0,402.5 1073.0,397.5 1078.0,395.0 1075.5,385.0 1083.0,380.0 1090.5,370.0 1088.0,365.0"/>
<polyline points="1005.6,393.4 1043.7,395.2"/>
<polyline points="1023.3,376.6 1042.8,380.1 1043.0,395.0"/>
<polyline points="1043.0,395.0 1050.5,405.0 1055.5,420.0 1053.0,435.0 1053.0,450.0 1058.0,465.0 1055.5,475.0 1048.0,485.0 1044.8,487.6 1041.8,493.6 1043.3,501.2"/>
<polyline points="1052.5,450.9 1059.6,446.4 1079.0,445.6 1090.0,447.8 1105.1,450.8 1120.3,453.9 1135.4,450.8 1138.4,441.7 1153.6,441.7 1159.6,437.2 1174.8,437.2 1180.8,441.7 1183.9,456.9 1196.0,462.9 1202.0,475.0 1217.2,478.1 1229.3,481.1 1242.0,484.5"/>
<polyline points="1232.3,529.5 1238.3,523.5 1242.0,520.0"/>
<polyline points="1093.3,513.3 1100.0,510.5 1110.8,515.9 1119.7,521.2 1123.3,532.0 1130.5,542.8 1132.3,548.1 1119.7,550.0 1114.3,560.7 1111.5,566.4"/>
<polyline points="1093.3,514.8 1099.4,522.4 1105.5,533.0 1110.0,543.6 1110.0,555.8 1111.5,566.4 1118.0,570.0"/>
<polyline points="1043.3,501.2 1038.8,508.8 1035.8,512.6 1041.8,517.9 1044.8,520.9 1050.9,519.4 1060.0,522.4 1069.1,525.5 1078.2,520.9 1087.3,516.4 1093.3,513.3"/>
<polyline points="940.0,407.5 937.5,425.0 942.5,442.5 945.0,460.0 944.0,466.0"/>
<polyline points="912.2,476.9 917.8,474.2 926.1,471.4 936.0,468.0 944.0,466.0 952.0,467.5 962.2,471.4 970.6,475.6 978.9,479.7 987.2,481.1 992.8,488.1"/>
<polyline points="912.2,476.9 915.0,483.9 923.3,495.0 928.9,501.9 931.7,506.1 937.2,508.9 948.3,501.9 958.0,504.7 969.2,508.9 973.3,511.7"/>
<polyline points="992.8,488.1 987.3,493.6 978.2,498.2 973.6,505.8 972.1,513.3"/>
<polyline points="992.8,488.1 1000.9,490.6 1005.5,493.6 1013.0,495.2 1020.6,493.6 1029.7,495.2 1038.8,498.2 1043.3,501.2"/>
<polyline points="1035.8,512.6 1028.2,513.3 1020.6,514.8 1011.5,516.4 1003.9,517.9 997.9,520.9 990.3,522.4 979.7,523.9 973.6,520.9 972.1,513.3"/>
<polyline points="973.3,511.7 970.6,518.6 973.6,520.9"/>
<polyline points="970.6,518.6 966.1,525.5 964.5,533.0 963.0,540.6 962.2,542.2"/>
<polyline points="1044.8,520.9 1037.3,525.5 1031.2,533.0 1026.7,543.6 1020.6,551.2 1013.0,554.2"/>
<polyline points="1013.0,554.2 1005.5,555.8 994.8,557.3 982.7,557.3 975.2,554.2 967.6,548.2 962.2,542.2"/>
<polyline points="1013.0,554.2 1017.6,560.3 1022.1,567.9 1026.7,575.5 1032.7,580.0 1040.3,583.0 1044.8,589.1 1047.9,593.6"/>
<polyline points="1047.9,593.6 1057.0,592.1 1069.1,595.2 1081.2,592.1 1093.3,589.1 1105.0,588.0 1112.0,585.0"/>
<polyline points="994.8,557.3 996.4,564.8 997.9,573.9 1000.9,583.0 1005.0,595.0 1012.0,605.0 1020.0,612.0"/>
<polyline points="1044.8,589.1 1040.0,600.0 1042.0,612.0 1038.0,622.0 1040.0,632.0 1045.0,640.0"/>
<polyline points="1020.0,612.0 1025.0,605.0 1030.0,610.0 1038.0,622.0"/>
<polyline points="1020.0,612.0 1018.0,625.0 1015.0,635.0 1020.0,645.0 1030.0,646.0 1040.0,643.0 1045.0,640.0"/>
<polyline points="1045.0,640.0 1060.0,636.0 1075.0,634.0 1090.0,635.0 1099.0,633.0"/>
<polyline points="1012.0,605.0 1008.0,612.0 1005.0,622.0 1008.0,632.0 1012.0,645.0 1013.0,652.0"/>
<polyline points="1015.0,635.0 1010.0,640.0"/>
<polyline points="1020.0,645.0 1022.0,652.0 1035.0,652.0 1048.0,650.0 1060.0,650.0"/>
<polyline points="962.2,542.2 951.1,546.4 937.2,546.4 923.3,543.6 912.2,538.1 912.2,525.6"/>
<polyline points="856.7,527.0 867.8,524.9 881.7,528.3 888.6,531.1 898.3,529.7 912.2,525.6 917.8,525.6 920.6,518.6 927.5,511.7 931.7,506.1"/>
<polyline points="844.2,496.4 853.9,497.8 862.2,502.0 858.0,511.7 856.7,525.6 848.3,531.1 842.8,539.4 845.6,551.9"/>
<polyline points="845.6,551.9 856.7,553.3 865.0,549.2 873.3,556.1 878.9,547.8 888.6,542.2 892.8,538.1 888.6,531.1"/>
<polyline points="845.6,551.9 846.9,560.3 851.1,570.0 855.0,580.0 857.5,592.5"/>
<polyline points="937.2,546.4 934.0,552.0 930.0,556.0 928.0,562.0"/>
<polyline points="940.0,564.4 945.0,560.0 952.0,561.0 958.0,557.0 967.6,548.2"/>
<polyline points="975.2,554.2 978.0,562.0 985.0,568.0 992.0,571.0 997.9,573.9"/>
<polyline points="958.0,557.0 962.0,568.0 972.0,578.0 982.0,590.0 992.0,600.0 1000.0,608.0 1005.0,615.0"/>
<polyline points="742.5,602.0 747.0,604.5 759.5,609.5 772.0,612.0 782.0,614.5 795.0,617.0 800.0,617.5"/>
<polyline points="665.0,598.0 668.0,610.0 665.0,630.0 668.0,650.0 662.0,670.0 660.0,690.0 658.0,700.0"/>
<polyline points="850.0,415.0 851.2,422.5 847.5,432.5 845.0,442.5 838.8,452.5 836.2,458.8 835.0,465.0 840.0,470.0 836.2,472.5 837.5,480.0 840.0,487.0 844.2,496.4"/>
<polyline points="800.0,460.0 808.0,456.0 820.0,452.5 830.0,457.5 835.0,465.0"/>
<polyline points="795.0,465.0 802.5,468.8 810.0,475.0 820.0,480.0 827.5,485.0 833.0,490.0 840.0,492.0 844.2,496.4"/>
</g>
<g fill="none" stroke="#fff" stroke-width="1.6" stroke-linecap="round" stroke-linejoin="round">
<polyline points="825.0,219.1 835.0,219.5 846.0,220.8"/>
<polyline points="823.5,239.6 840.0,238.5 856.3,236.2"/>
<polyline points="852.9,231.0 851.2,243.0"/>
<polyline points="825.3,258.3 838.0,256.5 849.4,254.9"/>
<polyline points="830.7,265.1 838.0,261.0 844.3,258.3"/>
<polyline points="827.0,275.4 833.0,272.0 839.2,268.5"/>
<polyline points="828.7,285.6 835.0,282.0 840.9,278.8"/>
<polyline points="834.1,292.4 840.9,290.7"/>
<polyline points="847.7,196.9 853.0,196.0 859.7,196.9"/>
<polyline points="840.0,205.0 846.0,203.5"/>
</g>
<g text-anchor="middle" font-family="Liberation Sans" font-weight="bold" font-size="11.4px" fill="#404040" stroke="#fff" stroke-width="3" paint-order="stroke" stroke-linejoin="round">
<text x="969.05" y="199">Sweden</text>
<text x="1080.5" y="302.5">Estonia</text>
<text x="1069.3" y="346.2">Latvia</text>
<text x="1057" y="378.9">Lithuania</text>
<text x="1108.2" y="416.9">Belarus</text>
<text x="732.4" y="408.5">United Kingdom</text>
<text x="663.3" y="423.7">Ireland</text>
<text x="891.1" y="466.7">Germany</text>
<text x="1003.3" y="446.4">Poland</text>
<text x="951.4" y="492.4">Czech Rep.</text>
<text x="1002.2" y="511.5">Slovakia</text>
<text x="936.1" y="531.3">Austria</text>
<text x="1002.25" y="539.6">Hungary</text>
<text x="1149" y="506.25">Ukraine</text>
<text x="1070.65" y="563">Romania</text>
<text x="964.95" y="576.3">Croatia</text>
<text x="1018.95" y="591.6">Serbia</text>
<text x="912.8" y="603.7">Italy</text>
<text x="1073.75" y="615.7">Bulgaria</text>
<text x="1040.5" y="669">Greece</text>
<text x="719.5" y="654.5">Spain</text>
</g>
<circle cx="738.8" cy="402.8" r="29.7" fill="#b08950"/><path d="M738.8,402.8 L768.50,402.80 A29.7,29.7 0 0 1 765.49,415.82 Z" fill="#84955f" stroke="#84955f" stroke-width="0.4" stroke-linejoin="round"/><path d="M738.8,402.8 L765.49,415.82 A29.7,29.7 0 0 1 761.88,421.49 Z" fill="#945e70" stroke="#945e70" stroke-width="0.4" stroke-linejoin="round"/><path d="M738.8,402.8 L710.11,395.11 A29.7,29.7 0 0 1 721.76,378.47 Z" fill="#bc4a4f" stroke="#bc4a4f" stroke-width="0.4" stroke-linejoin="round"/><path d="M738.8,402.8 L721.76,378.47 A29.7,29.7 0 0 1 768.50,402.80 Z" fill="#5d8a93" stroke="#5d8a93" stroke-width="0.4" stroke-linejoin="round"/>
<circle cx="873.8" cy="463.4" r="29.7" fill="#84955f"/><path d="M873.8,463.4 L855.93,487.12 A29.7,29.7 0 0 1 850.40,445.11 Z" fill="#945e70" stroke="#945e70" stroke-width="0.4" stroke-linejoin="round"/><path d="M873.8,463.4 L850.40,445.11 A29.7,29.7 0 0 1 854.71,440.65 Z" fill="#b08950" stroke="#b08950" stroke-width="0.4" stroke-linejoin="round"/><path d="M873.8,463.4 L854.71,440.65 A29.7,29.7 0 0 1 900.26,449.92 Z" fill="#bc4a4f" stroke="#bc4a4f" stroke-width="0.4" stroke-linejoin="round"/><path d="M873.8,463.4 L900.26,449.92 A29.7,29.7 0 0 1 903.50,463.40 Z" fill="#5d8a93" stroke="#5d8a93" stroke-width="0.4" stroke-linejoin="round"/>
<circle cx="788" cy="556.25" r="30" fill="#bc4a4f"/><path d="M788,556.25 L818.00,556.25 A30,30 0 0 1 818.00,556.56 Z" fill="#84955f" stroke="#84955f" stroke-width="0.4" stroke-linejoin="round"/><path d="M788,556.25 L818.00,556.56 A30,30 0 0 1 803.45,581.97 Z" fill="#945e70" stroke="#945e70" stroke-width="0.4" stroke-linejoin="round"/><path d="M788,556.25 L803.45,581.97 A30,30 0 0 1 802.54,582.49 Z" fill="#b08950" stroke="#b08950" stroke-width="0.4" stroke-linejoin="round"/><path d="M788,556.25 L818.00,555.83 A30,30 0 0 1 818.00,556.25 Z" fill="#5d8a93" stroke="#5d8a93" stroke-width="0.4" stroke-linejoin="round"/>
<circle cx="833.75" cy="433.75" r="16.25" fill="#84955f"/>
<circle cx="812.25" cy="466.75" r="9.75" fill="#84955f"/>
<circle cx="839" cy="487.75" r="9.75" fill="#84955f"/>
<circle cx="953.7" cy="487.9" r="9.6" fill="#84955f"/><path d="M953.7,487.9 L951.70,478.51 A9.6,9.6 0 0 1 954.04,478.31 Z" fill="#945e70" stroke="#945e70" stroke-width="0.4" stroke-linejoin="round"/><path d="M953.7,487.9 L954.04,478.31 A9.6,9.6 0 0 1 963.30,487.90 Z" fill="#bc4a4f" stroke="#bc4a4f" stroke-width="0.4" stroke-linejoin="round"/>
<circle cx="927.1" cy="532.6" r="9.9" fill="#84955f"/>
<circle cx="947.4" cy="556.3" r="10" fill="#b08950"/><path d="M947.4,556.3 L957.40,556.30 A10,10 0 0 1 943.17,565.36 Z" fill="#84955f" stroke="#84955f" stroke-width="0.4" stroke-linejoin="round"/><path d="M947.4,556.3 L943.17,565.36 A10,10 0 0 1 938.13,552.55 Z" fill="#945e70" stroke="#945e70" stroke-width="0.4" stroke-linejoin="round"/>
<circle cx="1008.8" cy="443.3" r="16.1" fill="#84955f"/><path d="M1008.8,443.3 L1016.61,429.22 A16.1,16.1 0 0 1 1023.73,437.27 Z" fill="#945e70" stroke="#945e70" stroke-width="0.4" stroke-linejoin="round"/><path d="M1008.8,443.3 L1023.73,437.27 A16.1,16.1 0 0 1 1023.93,437.79 Z" fill="#b08950" stroke="#b08950" stroke-width="0.4" stroke-linejoin="round"/><path d="M1008.8,443.3 L1023.93,437.79 A16.1,16.1 0 0 1 1024.90,443.30 Z" fill="#bc4a4f" stroke="#bc4a4f" stroke-width="0.4" stroke-linejoin="round"/>
<circle cx="1002.4" cy="508" r="10" fill="#bc4a4f"/><path d="M1002.4,508 L1012.40,508.00 A10,10 0 0 1 1010.39,514.02 Z" fill="#84955f" stroke="#84955f" stroke-width="0.4" stroke-linejoin="round"/><path d="M1002.4,508 L1010.39,514.02 A10,10 0 0 1 999.81,517.66 Z" fill="#945e70" stroke="#945e70" stroke-width="0.4" stroke-linejoin="round"/><path d="M1002.4,508 L999.81,517.66 A10,10 0 0 1 994.74,514.43 Z" fill="#b08950" stroke="#b08950" stroke-width="0.4" stroke-linejoin="round"/><path d="M1002.4,508 L1012.36,507.13 A10,10 0 0 1 1012.40,508.00 Z" fill="#5d8a93" stroke="#5d8a93" stroke-width="0.4" stroke-linejoin="round"/>
<circle cx="1009" cy="538.6" r="9.6" fill="#bc4a4f"/><path d="M1009,538.6 L1018.60,538.60 A9.6,9.6 0 0 1 1014.91,546.16 Z" fill="#84955f" stroke="#84955f" stroke-width="0.4" stroke-linejoin="round"/><path d="M1009,538.6 L1014.91,546.16 A9.6,9.6 0 0 1 1006.19,547.78 Z" fill="#945e70" stroke="#945e70" stroke-width="0.4" stroke-linejoin="round"/><path d="M1009,538.6 L1006.19,547.78 A9.6,9.6 0 0 1 1000.04,542.04 Z" fill="#b08950" stroke="#b08950" stroke-width="0.4" stroke-linejoin="round"/><path d="M1009,538.6 L1011.65,529.37 A9.6,9.6 0 0 1 1018.60,538.60 Z" fill="#5d8a93" stroke="#5d8a93" stroke-width="0.4" stroke-linejoin="round"/>
<circle cx="1070.3" cy="556.3" r="9.8" fill="#5d8a93"/><path d="M1070.3,556.3 L1080.10,556.30 A9.8,9.8 0 0 1 1072.00,565.95 Z" fill="#84955f" stroke="#84955f" stroke-width="0.4" stroke-linejoin="round"/><path d="M1070.3,556.3 L1072.00,565.95 A9.8,9.8 0 0 1 1062.79,562.60 Z" fill="#945e70" stroke="#945e70" stroke-width="0.4" stroke-linejoin="round"/><path d="M1070.3,556.3 L1062.79,562.60 A9.8,9.8 0 0 1 1061.42,552.16 Z" fill="#b08950" stroke="#b08950" stroke-width="0.4" stroke-linejoin="round"/><path d="M1070.3,556.3 L1061.42,552.16 A9.8,9.8 0 0 1 1067.76,546.83 Z" fill="#bc4a4f" stroke="#bc4a4f" stroke-width="0.4" stroke-linejoin="round"/>
<circle cx="1070.3" cy="608.1" r="9.8" fill="#84955f"/><path d="M1070.3,608.1 L1060.65,609.80 A9.8,9.8 0 0 1 1061.42,603.96 Z" fill="#945e70" stroke="#945e70" stroke-width="0.4" stroke-linejoin="round"/><path d="M1070.3,608.1 L1061.42,603.96 A9.8,9.8 0 0 1 1080.10,608.10 Z" fill="#b08950" stroke="#b08950" stroke-width="0.4" stroke-linejoin="round"/>
<circle cx="1033.5" cy="671.7" r="9.8" fill="#84955f"/><path d="M1033.5,671.7 L1033.50,661.90 A9.8,9.8 0 0 1 1043.15,670.00 Z" fill="#945e70" stroke="#945e70" stroke-width="0.4" stroke-linejoin="round"/><path d="M1033.5,671.7 L1043.15,670.00 A9.8,9.8 0 0 1 1043.30,671.70 Z" fill="#bc4a4f" stroke="#bc4a4f" stroke-width="0.4" stroke-linejoin="round"/>
<circle cx="920.9" cy="611.1" r="10" fill="#945e70"/><path d="M920.9,611.1 L910.90,611.10 A10,10 0 0 1 921.42,601.11 Z" fill="#b08950" stroke="#b08950" stroke-width="0.4" stroke-linejoin="round"/><path d="M920.9,611.1 L921.42,601.11 A10,10 0 0 1 930.90,611.10 Z" fill="#bc4a4f" stroke="#bc4a4f" stroke-width="0.4" stroke-linejoin="round"/>
<circle cx="664.95" cy="423.7" r="9.8" fill="#84955f"/><path d="M664.95,423.7 L655.15,423.70 A9.8,9.8 0 0 1 669.55,415.05 Z" fill="#945e70" stroke="#945e70" stroke-width="0.4" stroke-linejoin="round"/><path d="M664.95,423.7 L669.55,415.05 A9.8,9.8 0 0 1 674.75,423.70 Z" fill="#b08950" stroke="#b08950" stroke-width="0.4" stroke-linejoin="round"/>
<circle cx="1082.7" cy="291.7" r="9.85" fill="#84955f"/><path d="M1082.7,291.7 L1082.70,281.85 A9.85,9.85 0 0 1 1091.23,286.77 Z" fill="#945e70" stroke="#945e70" stroke-width="0.4" stroke-linejoin="round"/><path d="M1082.7,291.7 L1091.23,286.77 A9.85,9.85 0 0 1 1092.55,291.70 Z" fill="#b08950" stroke="#b08950" stroke-width="0.4" stroke-linejoin="round"/>
<circle cx="1070.4" cy="337.7" r="9.9" fill="#84955f"/>
<circle cx="1058" cy="381.9" r="9.9" fill="#84955f"/>
<circle cx="947.5" cy="216.5" r="10" fill="#bc4a4f"/><path d="M947.5,216.5 L957.50,216.50 A10,10 0 0 1 937.51,217.02 Z" fill="#945e70" stroke="#945e70" stroke-width="0.4" stroke-linejoin="round"/>
<circle cx="885.75" cy="360" r="10" fill="#84955f"/>
<circle cx="716" cy="661" r="6" fill="#84955f"/><path d="M716,661 L710.36,658.95 A6,6 0 0 1 722.00,661.00 Z" fill="#bc4a4f" stroke="#bc4a4f" stroke-width="0.4" stroke-linejoin="round"/>
<rect x="597" y="560" width="143" height="200" fill="#fff" fill-opacity="0.93"/>
<circle cx="659.5" cy="575.5" r="10.25" fill="#d3d3d3" stroke="#8c8c8c" stroke-width="1"/>
<line x1="670" y1="575.5" x2="703.5" y2="575.5" stroke="#8c8c8c" stroke-width="1"/>
<text x="705" y="579.5" font-family="Liberation Sans" font-size="10.6px" fill="#888">0.1</text>
<circle cx="659.5" cy="610" r="16.75" fill="#d3d3d3" stroke="#8c8c8c" stroke-width="1"/>
<line x1="677" y1="610" x2="703.5" y2="610" stroke="#8c8c8c" stroke-width="1"/>
<text x="705" y="614" font-family="Liberation Sans" font-size="10.6px" fill="#888">37</text>
<circle cx="659.5" cy="657.5" r="23.25" fill="#d3d3d3" stroke="#8c8c8c" stroke-width="1"/>
<line x1="683" y1="657.5" x2="703.5" y2="657.5" stroke="#8c8c8c" stroke-width="1"/>
<text x="705" y="661.5" font-family="Liberation Sans" font-size="10.6px" fill="#888">73.9</text>
<circle cx="659.5" cy="718.25" r="30.25" fill="#d3d3d3" stroke="#8c8c8c" stroke-width="1"/>
<line x1="690" y1="718.25" x2="703.5" y2="718.25" stroke="#8c8c8c" stroke-width="1"/>
<text x="705" y="722.25" font-family="Liberation Sans" font-size="10.6px" fill="#888">111</text>
<rect x="1051.3" y="619.4" width="190" height="160" fill="#fff" fill-opacity="0.93"/>
<rect x="1067.5" y="636.5" width="31" height="15" fill="#84955f" stroke="#84955f" stroke-width="1"/>
<text x="1115.3" y="647" font-family="Liberation Sans" font-size="10.4px" fill="#8a8a8a">Solid Fuels</text>
<rect x="1067.5" y="660.5" width="31" height="15" fill="#945e70" stroke="#945e70" stroke-width="1"/>
<text x="1115.3" y="671" font-family="Liberation Sans" font-size="10.4px" fill="#8a8a8a">Renewables</text>
<rect x="1067.5" y="684.5" width="31" height="15" fill="#b08950" stroke="#b08950" stroke-width="1"/>
<text x="1115.3" y="695" font-family="Liberation Sans" font-size="10.4px" fill="#8a8a8a">Petroleum Products</text>
<rect x="1067.5" y="708.5" width="31" height="15" fill="#bc4a4f" stroke="#bc4a4f" stroke-width="1"/>
<text x="1115.3" y="719" font-family="Liberation Sans" font-size="10.4px" fill="#8a8a8a">Nuclear</text>
<rect x="1067.5" y="732.5" width="31" height="15" fill="#5d8a93" stroke="#5d8a93" stroke-width="1"/>
<text x="1115.3" y="743" font-family="Liberation Sans" font-size="10.4px" fill="#8a8a8a">Gases</text>
</svg>
</body></html>
